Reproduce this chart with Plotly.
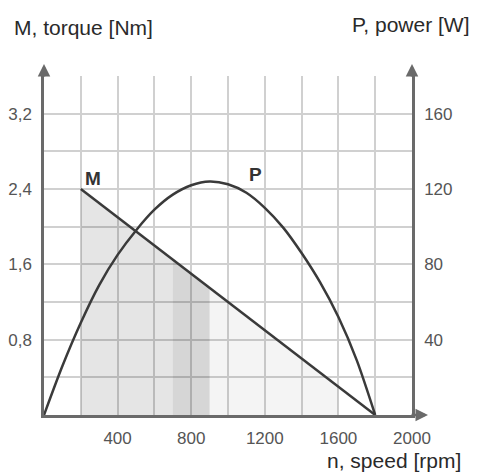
import numpy as np
import plotly.graph_objects as go

# ---- data ----
speed_rpm = [0, 100, 200, 300, 400, 500, 600, 700, 800, 900, 1000,
             1100, 1200, 1300, 1400, 1500, 1600, 1700, 1800]
power_W = [0, 26, 49, 69, 85, 98, 109, 117, 122, 124, 122.5,
           118, 110, 99.5, 86, 70.5, 52, 29, 0]

torque_n = [200, 1800]
torque_M = [2.4, 0.0]

shade_edges = [200, 700, 900, 1600]
shade_colors = ["rgba(0,0,0,0.10)", "rgba(0,0,0,0.16)", "rgba(0,0,0,0.045)"]

x_ticks = [400, 800, 1200, 1600, 2000]
y_left_ticks = [0.8, 1.6, 2.4, 3.2]
y_left_text = ["0,8", "1,6", "2,4", "3,2"]
y_right_ticks = [40, 80, 120, 160]

FONT = "Liberation Sans, Arial, sans-serif"
LINE = "#3a3a3a"
GRID = "#d0d0d0"
AXIS = "#6a6a6a"

fig = go.Figure()

# shaded regions under the torque line
for i in range(len(shade_edges) - 1):
    xa, xb = shade_edges[i], shade_edges[i + 1]
    xs = [xa, xb]
    ys = list(np.interp(xs, torque_n, torque_M))
    fig.add_trace(go.Scatter(x=xs, y=ys, mode="lines", fill="tozeroy",
                             fillcolor=shade_colors[i],
                             line=dict(width=0, color="rgba(0,0,0,0)"),
                             hoverinfo="skip", showlegend=False))

# torque line
fig.add_trace(go.Scatter(x=torque_n, y=torque_M, mode="lines",
                         line=dict(color=LINE, width=2.5), showlegend=False))

# power curve (right axis)
fig.add_trace(go.Scatter(x=speed_rpm, y=power_W, mode="lines", yaxis="y2",
                         line=dict(color=LINE, width=2.5, shape="spline", smoothing=0.8),
                         showlegend=False))

fig.update_layout(
    width=478, height=472,
    margin=dict(l=44, r=66, t=76, b=57, autoexpand=False),
    paper_bgcolor="white", plot_bgcolor="white",
    font=dict(family=FONT, color="#555555", size=17),
    xaxis=dict(range=[0, 2000], tickvals=x_ticks, showgrid=True, automargin=False,
               gridcolor=GRID, gridwidth=1.5,
               minor=dict(dtick=200, tick0=0, showgrid=True, gridcolor=GRID, gridwidth=1.5),
               showline=True, linecolor=AXIS, linewidth=2.5,
               ticks="outside", ticklen=6, tickcolor="rgba(0,0,0,0)",
               zeroline=False, fixedrange=True),
    yaxis=dict(range=[0, 3.6], tickvals=y_left_ticks, ticktext=y_left_text, automargin=False,
               showgrid=True, gridcolor=GRID, gridwidth=1.5,
               minor=dict(dtick=0.4, tick0=0, showgrid=True, gridcolor=GRID, gridwidth=1.5),
               showline=True, linecolor=AXIS, linewidth=2.5,
               ticks="outside", ticklen=6, tickcolor="rgba(0,0,0,0)",
               zeroline=False),
    yaxis2=dict(range=[0, 180], tickvals=y_right_ticks, overlaying="y", side="right",
                automargin=False,
                showgrid=False, showline=True, linecolor=AXIS, linewidth=2.5,
                ticks="outside", ticklen=6, tickcolor="rgba(0,0,0,0)",
                zeroline=False),
)

ann = []
# axis arrows
ann.append(dict(xref="paper", yref="paper", x=0, y=1 + 12 / 339, ax=0, ay=14,
                showarrow=True, arrowhead=2, arrowsize=1, arrowwidth=2.5, arrowcolor=AXIS, text=""))
ann.append(dict(xref="paper", yref="paper", x=1, y=1 + 12 / 339, ax=0, ay=14,
                showarrow=True, arrowhead=2, arrowsize=1, arrowwidth=2.5, arrowcolor=AXIS, text=""))
ann.append(dict(xref="paper", yref="paper", x=1 + 16 / 368, y=0, ax=-18, ay=0,
                showarrow=True, arrowhead=2, arrowsize=1, arrowwidth=2.5, arrowcolor=AXIS, text=""))
# axis titles
ann.append(dict(xref="paper", yref="paper", x=(12 - 44) / 368, y=(415 - 27) / 339,
                xanchor="left", yanchor="middle", showarrow=False,
                text="M, torque [Nm]", font=dict(size=21, color="#2a2a2a", family=FONT)))
ann.append(dict(xref="paper", yref="paper", x=(472 - 44) / 368, y=(415 - 24) / 339,
                xanchor="right", yanchor="middle", showarrow=False,
                text="P, power [W]", font=dict(size=21, color="#2a2a2a", family=FONT)))
ann.append(dict(xref="paper", yref="paper", x=(463 - 44) / 368, y=(415 - 461) / 339,
                xanchor="right", yanchor="middle", showarrow=False,
                text="n, speed [rpm]", font=dict(size=21, color="#2a2a2a", family=FONT)))
# curve labels
ann.append(dict(x=torque_n[0], y=torque_M[0], xref="x", yref="y", showarrow=False,
                xshift=12, yshift=11, text="<b>M</b>",
                font=dict(size=19, color="#333333", family=FONT)))
ipk = int(np.argmax(power_W))
ann.append(dict(x=speed_rpm[ipk], y=power_W[ipk], xref="x", yref="y2", showarrow=False,
                xshift=46, yshift=7, text="<b>P</b>",
                font=dict(size=19, color="#333333", family=FONT)))
fig.update_layout(annotations=ann)

fig.write_html("out.html", config={"displayModeBar": False},
               post_script="document.body.style.margin='0';document.body.style.overflow='hidden';")
